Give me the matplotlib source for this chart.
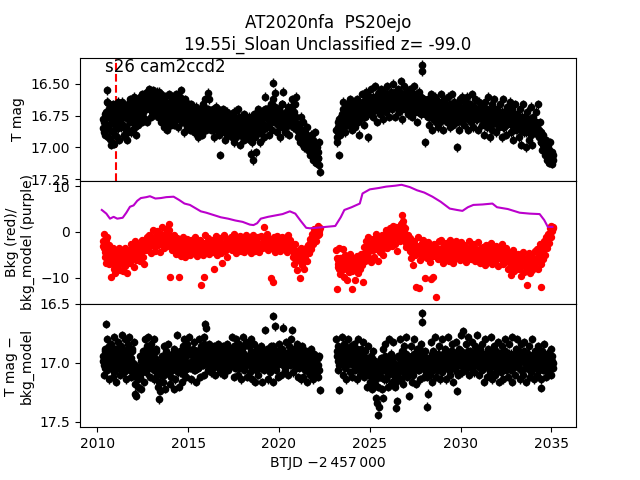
import numpy as np
import matplotlib
matplotlib.use("Agg")
import matplotlib.pyplot as plt

# ---------------- data ----------------
# two interleaved readings per segment (cadence grids offset by half a step)
seg1_range_a = (2010.30, 2022.25)
seg1_range_b = (2010.325, 2022.225)
seg2_range_a = (2023.15, 2035.10)
seg2_range_b = (2023.175, 2035.075)

tmag_seg1_a = [
16.85,16.80,16.90,16.78,16.72,16.55,16.65,16.82,16.93,16.75,16.70,16.88,16.97,16.80,16.68,16.74,16.92,16.85,16.66,16.78,
16.70,16.64,16.82,16.90,16.76,16.68,16.86,16.94,16.72,16.65,16.80,16.88,16.74,16.62,16.60,16.78,16.84,16.70,16.66,16.82,
16.76,16.60,16.68,16.80,16.72,16.58,16.64,16.78,16.70,16.56,16.62,16.54,16.70,16.76,16.60,16.55,16.66,16.74,16.58,16.64,
16.72,16.62,16.56,16.68,16.80,16.74,16.60,16.84,16.70,16.64,16.78,16.86,16.66,16.58,16.72,16.82,16.76,16.62,16.70,16.80,
16.66,16.58,16.74,16.84,16.70,16.60,16.55,16.72,16.80,16.88,16.68,16.62,16.76,16.84,16.72,16.66,16.86,16.78,16.70,16.82,
16.74,16.88,16.80,16.68,16.76,16.92,16.84,16.70,16.78,16.90,16.66,16.82,16.74,16.62,16.86,16.78,16.57,16.62,16.80,16.72,
16.84,16.70,16.78,16.92,16.80,16.68,16.86,16.76,16.90,17.06,16.74,16.82,16.70,16.88,16.78,16.94,16.72,16.84,16.76,16.90,
16.80,16.74,16.92,16.84,16.72,16.96,16.86,16.78,16.90,16.70,16.82,16.98,16.76,16.88,16.80,16.74,16.94,16.84,16.78,16.92,
16.86,16.76,16.94,17.05,16.82,17.10,16.90,16.74,16.84,17.04,16.78,16.70,16.88,16.96,16.80,16.72,16.86,16.92,16.76,16.60,
16.70,16.84,16.78,16.90,16.68,16.76,16.86,16.72,16.49,16.80,16.57,16.74,16.88,16.82,16.70,16.92,16.78,16.66,16.56,16.84,
16.76,16.88,16.72,16.82,16.68,16.90,16.78,16.70,16.62,16.84,16.74,16.66,16.80,16.60,16.86,16.92,16.82,16.96,16.76,16.88,
16.94,16.80,17.00,16.88,16.96,16.84,17.02,16.92,17.06,16.90,16.98,17.10,16.94,17.04,16.88,17.12,17.00,17.08,16.96,17.19,
]
tmag_seg1_b = [
16.78,16.88,16.74,16.84,16.64,16.92,16.76,16.70,16.86,16.98,16.80,16.66,16.76,16.90,16.84,16.72,16.64,16.80,16.94,16.70,
16.84,16.74,16.66,16.76,16.92,16.84,16.72,16.78,16.88,16.70,16.62,16.76,16.86,16.80,16.68,16.72,16.90,16.78,16.62,16.74,
16.68,16.74,16.62,16.58,16.76,16.66,16.70,16.60,16.80,16.66,16.58,16.68,16.62,16.56,16.72,16.64,16.60,16.68,16.72,16.56,
16.66,16.76,16.70,16.62,16.58,16.66,16.76,16.70,16.60,16.74,16.68,16.72,16.80,16.74,16.64,16.68,16.60,16.74,16.82,16.66,
16.76,16.70,16.62,16.66,16.78,16.74,16.66,16.80,16.64,16.74,16.78,16.70,16.66,16.72,16.80,16.76,16.70,16.66,16.76,16.74,
16.80,16.72,16.76,16.84,16.70,16.80,16.74,16.88,16.72,16.78,16.84,16.74,16.68,16.76,16.72,16.84,16.70,16.76,16.72,16.86,
16.76,16.86,16.72,16.80,16.74,16.84,16.78,16.70,16.82,16.76,16.88,16.74,16.80,16.76,16.86,16.80,16.78,16.72,16.84,16.78,
16.86,16.80,16.78,16.88,16.82,16.76,16.84,16.92,16.80,16.86,16.76,16.84,16.90,16.82,16.86,16.92,16.78,16.80,16.86,16.84,
16.80,16.90,16.86,16.92,16.78,16.96,16.82,16.88,16.92,16.80,16.86,16.76,16.82,16.88,16.74,16.84,16.78,16.72,16.82,16.70,
16.76,16.72,16.82,16.70,16.80,16.74,16.66,16.78,16.62,16.72,16.68,16.80,16.76,16.70,16.78,16.84,16.72,16.74,16.66,16.76,
16.80,16.74,16.84,16.76,16.72,16.80,16.70,16.76,16.68,16.74,16.80,16.72,16.66,16.76,16.82,16.86,16.90,16.84,16.92,16.86,
16.88,16.92,16.86,16.98,16.90,16.94,16.92,17.00,16.96,17.02,16.94,17.04,17.00,16.96,17.06,17.02,17.10,17.04,17.08,17.14,
]
tmag_seg2_a = [
16.86,16.96,16.80,17.06,16.90,16.76,16.84,16.70,16.64,16.80,16.88,16.72,16.66,16.82,16.74,16.62,16.78,16.86,16.70,16.76,
16.68,16.84,16.74,16.62,16.80,16.90,16.66,16.72,16.58,16.76,16.64,16.82,16.70,16.56,16.74,16.92,16.62,16.68,16.54,16.72,
16.60,16.76,16.66,16.52,16.70,16.80,16.58,16.64,16.74,16.54,16.68,16.62,16.78,16.56,16.66,16.72,16.52,16.60,16.76,16.64,
16.56,16.70,16.62,16.50,16.66,16.76,16.58,16.68,16.54,16.72,16.60,16.48,16.64,16.78,16.58,16.52,16.70,16.62,16.56,16.74,
16.62,16.54,16.70,16.60,16.76,16.66,16.52,16.72,16.58,16.80,16.64,16.56,16.68,16.74,16.35,16.40,16.62,16.70,16.96,16.66,
16.74,16.62,16.82,16.70,16.58,16.76,16.86,16.66,16.72,16.60,16.80,16.68,16.84,16.64,16.74,16.58,16.78,16.70,16.86,16.62,
16.72,16.66,16.80,16.60,16.76,16.84,16.68,16.58,16.74,16.82,16.64,16.70,16.78,17.00,16.66,16.86,16.62,16.74,16.60,16.80,
16.70,16.82,16.64,16.76,16.60,16.86,16.72,16.66,16.80,16.58,16.74,16.84,16.68,16.62,16.78,16.72,16.86,16.64,16.76,16.70,
16.82,16.68,16.76,16.90,16.64,16.72,16.84,16.60,16.78,16.92,16.70,16.66,16.86,16.74,16.62,16.80,16.88,16.70,16.76,16.84,
16.66,16.78,16.92,16.72,16.62,16.84,16.76,16.90,16.68,16.80,16.74,16.64,16.88,16.82,16.70,16.94,16.76,16.66,16.86,16.74,
16.80,16.92,16.70,16.86,16.98,16.76,16.66,16.88,16.82,17.00,16.72,16.84,16.94,16.78,16.68,16.90,16.98,16.76,16.86,16.80,
16.72,16.84,16.66,16.92,16.80,16.96,16.88,17.02,16.90,16.98,17.06,16.94,17.10,17.00,17.12,16.96,17.08,17.04,17.13,17.06,
]
tmag_seg2_b = [
16.92,16.84,16.88,16.78,16.82,16.86,16.74,16.80,16.76,16.70,16.78,16.82,16.72,16.76,16.68,16.74,16.70,16.80,16.74,16.66,
16.74,16.70,16.78,16.72,16.66,16.74,16.78,16.68,16.72,16.64,16.70,16.76,16.62,16.68,16.66,16.74,16.70,16.60,16.66,16.62,
16.66,16.62,16.70,16.60,16.64,16.68,16.62,16.56,16.66,16.60,16.72,16.64,16.58,16.62,16.70,16.60,16.66,16.58,16.62,16.68,
16.62,16.58,16.66,16.60,16.56,16.64,16.68,16.62,16.60,16.66,16.56,16.62,16.70,16.60,16.64,16.58,16.62,16.68,16.60,16.64,
16.66,16.60,16.64,16.70,16.62,16.58,16.66,16.62,16.70,16.64,16.72,16.62,16.68,16.60,16.66,16.72,16.68,16.62,16.74,16.70,
16.70,16.76,16.66,16.74,16.70,16.64,16.72,16.78,16.70,16.74,16.68,16.76,16.72,16.70,16.80,16.66,16.72,16.76,16.70,16.74,
16.70,16.76,16.68,16.74,16.72,16.66,16.78,16.72,16.68,16.74,16.76,16.70,16.72,16.80,16.70,16.74,16.68,16.78,16.72,16.70,
16.74,16.68,16.76,16.72,16.70,16.78,16.66,16.74,16.70,16.76,16.72,16.68,16.76,16.74,16.70,16.78,16.72,16.70,16.76,16.72,
16.74,16.78,16.72,16.80,16.76,16.82,16.70,16.76,16.80,16.74,16.78,16.82,16.72,16.78,16.76,16.70,16.80,16.76,16.82,16.74,
16.78,16.74,16.80,16.76,16.84,16.72,16.78,16.82,16.76,16.74,16.80,16.78,16.72,16.76,16.82,16.78,16.84,16.74,16.78,16.80,
16.78,16.84,16.80,16.76,16.86,16.82,16.78,16.84,16.76,16.88,16.82,16.78,16.84,16.80,16.86,16.78,16.82,16.88,16.80,16.84,
16.80,16.86,16.82,16.90,16.86,16.92,16.96,16.90,16.98,17.00,16.96,17.02,17.04,16.98,17.06,17.02,17.08,17.10,17.04,17.10,
]

bkg_seg1_a = [
-3.0,-0.4,-5.5,-2.2,-6.8,-1.0,-4.0,-7.0,-4.8,-9.8,-6.2,-3.5,-8.0,-5.4,-9.0,-4.2,-7.2,-5.8,-3.4,-8.4,
-6.0,-4.4,-8.6,-5.2,-7.4,-3.6,-6.6,-9.0,-5.0,-4.0,-6.8,-2.6,-5.6,-3.2,-7.6,-4.6,-2.0,-6.2,-3.8,-5.0,
-2.8,-6.4,-4.2,-1.8,-5.4,-3.4,-7.0,-2.4,-4.0,-1.2,-3.6,-0.6,-2.6,-4.6,-1.6,0.4,-3.0,-1.0,-4.2,-2.0,
0.2,-2.8,-1.4,-4.4,-0.4,1.0,-2.2,-3.6,-0.8,-1.8,0.6,-3.0,-1.2,1.8,-9.8,-2.4,-4.0,-1.6,-3.2,-0.6,
-2.6,-4.8,-1.4,-3.6,-9.8,-2.0,-5.2,-3.0,-1.2,-4.4,-2.6,-5.4,-3.8,-1.6,-4.0,-2.8,-5.0,-1.8,-3.4,-4.6,
-2.2,-4.2,-1.0,-3.6,-5.2,-2.8,-4.6,-1.8,-11.6,-3.2,-5.0,-9.8,-2.4,-0.6,-4.0,-3.0,-1.4,-4.8,-2.6,-3.8,
-1.8,-4.4,-2.8,-8.2,-3.4,-0.8,-5.0,-2.2,-3.8,-1.4,-4.6,-6.8,-2.6,-3.2,-0.6,-4.2,-2.0,-5.4,-3.0,-1.6,
-3.4,-1.2,-4.0,-2.4,-0.4,-3.6,-2.0,-4.6,-1.6,-3.0,-2.6,-0.8,-4.2,-2.2,-3.2,-1.4,-4.4,-2.8,-0.6,-3.8,
-2.0,-3.8,-1.0,-4.6,-2.6,-0.6,-3.4,-1.8,-4.2,-2.4,-3.0,-1.2,-4.4,-2.8,-0.8,-3.6,-2.2,-1.4,1.0,-3.2,
-2.6,-0.4,-4.0,-1.6,-3.0,-10.0,-2.2,-11.0,-3.6,-1.2,-4.4,-2.4,-0.8,-3.4,-1.8,-4.2,-2.8,-1.0,-3.8,-2.2,
-1.4,-3.6,-2.0,-4.4,-0.6,-3.0,-1.8,-4.0,-2.6,-5.4,-3.2,-7.0,-2.6,-6.0,-8.4,-4.2,-5.6,-10.0,-3.6,-7.2,
-6.0,-4.4,-8.0,-5.2,-3.4,-6.4,-2.8,-4.6,-1.6,-3.8,-0.4,-2.6,-1.4,0.6,-0.8,-2.0,0.2,1.2,-0.4,0.8,
]
bkg_seg1_b = [
-2.0,-3.6,-4.4,-1.8,-3.2,-5.0,-2.8,-5.6,-6.4,-4.6,-5.4,-7.0,-4.8,-6.0,-5.2,-6.6,-4.4,-6.2,-5.0,-6.8,
-5.4,-6.2,-4.8,-7.0,-5.8,-6.4,-4.6,-5.6,-6.8,-5.2,-4.4,-5.8,-4.2,-5.0,-3.8,-5.4,-4.0,-3.4,-4.8,-3.6,
-4.2,-3.6,-5.0,-3.2,-4.0,-2.6,-3.8,-3.0,-2.4,-3.4,-2.0,-2.8,-1.8,-2.4,-1.4,-2.2,-1.6,-2.6,-1.2,-1.8,
-1.6,-0.8,-2.0,-1.2,-2.4,-0.6,-1.4,-1.0,-2.2,-0.4,-1.6,-1.0,-0.2,0.4,-1.8,-2.6,-1.4,-2.8,-2.0,-3.0,
-3.2,-2.4,-3.6,-2.8,-4.0,-3.4,-2.2,-3.8,-3.0,-2.6,-3.6,-3.0,-4.2,-2.8,-3.4,-2.4,-3.6,-3.2,-2.6,-3.0,
-3.4,-2.6,-3.0,-4.0,-2.8,-3.6,-3.2,-2.4,-3.8,-2.8,-3.4,-4.2,-3.0,-2.6,-3.4,-3.8,-2.8,-3.2,-3.6,-2.6,
-3.0,-3.6,-2.4,-3.2,-4.0,-2.8,-3.4,-3.0,-2.6,-3.8,-3.2,-2.8,-3.6,-4.2,-3.0,-2.6,-3.4,-3.8,-2.8,-3.2,
-2.8,-3.4,-2.6,-3.0,-3.8,-2.4,-3.2,-3.0,-3.6,-2.6,-3.4,-2.8,-3.0,-3.6,-2.4,-3.2,-2.8,-3.4,-3.0,-2.6,
-3.2,-2.6,-3.0,-3.6,-2.8,-3.4,-2.2,-3.0,-3.6,-2.8,-3.2,-2.4,-3.0,-3.4,-2.6,-3.0,-3.6,-2.8,-2.2,-3.0,
-2.8,-3.2,-2.6,-3.6,-2.4,-3.0,-3.4,-2.8,-2.4,-3.2,-2.6,-3.0,-3.4,-2.8,-2.2,-3.0,-3.6,-2.6,-3.0,-2.8,
-2.6,-3.0,-2.4,-3.4,-2.8,-3.2,-2.6,-3.0,-3.6,-3.0,-4.0,-4.6,-4.2,-5.0,-5.4,-4.8,-6.2,-5.6,-6.4,-5.8,
-5.6,-6.0,-5.2,-4.8,-4.2,-4.6,-3.6,-3.2,-2.8,-2.4,-2.0,-1.6,-1.8,-0.8,-1.2,-0.4,0.0,-0.6,0.4,0.2,
]
bkg_seg2_a = [
-4.0,-12.4,-7.6,-3.4,-9.2,-5.6,-8.4,-3.8,-6.8,-9.8,-5.0,-7.4,-10.6,-6.2,-8.8,-4.8,-7.0,-12.4,-5.8,-8.0,
-6.6,-10.4,-7.8,-5.2,-9.0,-6.0,-8.2,-4.8,-7.2,-11.0,-5.6,-3.2,-6.4,-2.0,-4.6,-1.2,-5.8,-3.0,-6.6,-2.4,
-4.0,-1.6,-5.4,-2.6,-0.4,-3.8,-6.4,-1.8,-4.4,-2.2,-0.6,-3.4,-5.0,-1.4,-2.8,0.4,-3.6,-1.0,-2.4,0.8,
-1.6,0.2,-3.0,1.4,-0.8,-2.6,1.0,-4.2,-1.2,0.6,-2.0,1.8,-0.4,3.6,2.4,-1.4,0.8,-3.2,-2.2,-0.6,
-3.6,-1.4,-5.8,-2.6,-4.4,-7.2,-2.0,-5.0,-12.0,-3.0,-1.2,-12.2,-6.2,-3.8,-2.4,-5.4,-1.8,-4.6,-10.0,-3.2,
-5.6,-2.2,-4.0,-6.6,-10.2,-3.0,-5.2,-9.8,-2.6,-4.8,-14.2,-3.6,-6.0,-2.0,-4.4,-1.8,-5.8,-3.4,-6.8,-2.8,
-4.6,-2.4,-5.6,-3.2,-6.4,-1.8,-4.0,-5.2,-2.6,-6.8,-3.6,-4.8,-2.0,-5.8,-3.0,-4.4,-6.2,-2.2,-5.0,-3.8,
-5.4,-2.8,-4.2,-6.6,-3.4,-5.0,-2.0,-4.8,-6.0,-3.0,-5.6,-2.6,-4.4,-6.4,-3.8,-5.2,-2.2,-4.6,-6.8,-3.6,
-4.0,-6.2,-3.2,-5.4,-7.2,-2.8,-4.8,-6.6,-3.6,-5.8,-2.4,-4.4,-7.0,-3.4,-5.2,-6.4,-3.0,-4.6,-7.4,-5.0,
-3.8,-6.0,-2.6,-5.2,-7.0,-4.2,-6.6,-3.4,-5.6,-8.0,-4.6,-6.8,-9.4,-5.0,-7.4,-4.0,-8.6,-6.2,-5.4,-7.8,
-4.8,-8.2,-6.0,-9.6,-5.2,-7.0,-4.4,-8.8,-6.4,-5.6,-11.6,-7.6,-4.6,-9.0,-6.8,-5.0,-8.4,-6.2,-7.2,-4.2,
-6.6,-3.8,-8.0,-5.2,-2.6,-7.0,-12.0,-4.4,-6.0,-2.0,-5.0,-1.2,-3.6,-0.4,-2.4,0.8,-1.0,1.2,0.2,1.0,
]
bkg_seg2_b = [
-5.6,-7.0,-6.2,-8.2,-5.8,-7.4,-6.6,-8.0,-7.2,-6.4,-7.8,-6.8,-7.6,-8.4,-7.0,-6.2,-7.4,-8.6,-6.8,-7.2,
-7.4,-6.6,-8.0,-7.0,-6.2,-6.8,-5.6,-6.4,-5.2,-5.8,-4.8,-5.4,-4.4,-4.0,-4.6,-3.6,-4.2,-3.2,-3.8,-3.0,
-3.4,-2.8,-3.2,-2.4,-3.0,-2.0,-2.6,-1.8,-2.4,-1.4,-2.0,-1.6,-1.0,-1.8,-0.8,-1.4,-0.6,-1.2,-0.4,-1.0,
-0.6,-1.0,0.0,-0.4,-1.2,0.4,-0.2,-0.8,0.6,-0.4,0.8,1.2,2.0,1.4,0.2,-0.8,-1.6,-2.4,-2.0,-3.0,
-3.6,-4.2,-3.0,-4.6,-3.8,-4.4,-3.2,-4.0,-4.8,-3.4,-4.2,-3.6,-4.6,-4.0,-3.2,-4.4,-3.8,-4.8,-4.2,-3.6,
-4.4,-4.8,-3.8,-5.0,-4.2,-4.6,-5.2,-3.8,-4.4,-5.0,-4.0,-4.6,-5.4,-4.2,-3.8,-4.8,-4.4,-5.0,-4.2,-4.6,
-4.8,-4.2,-5.0,-4.4,-3.8,-4.6,-5.2,-4.0,-4.8,-4.4,-5.0,-4.2,-4.6,-3.8,-4.8,-5.2,-4.4,-4.0,-4.6,-5.0,
-4.4,-4.8,-4.0,-5.2,-4.6,-4.2,-5.0,-4.4,-3.8,-4.8,-4.2,-5.0,-4.6,-4.0,-4.8,-4.4,-5.2,-4.6,-4.2,-4.8,
-4.6,-5.0,-4.2,-5.4,-4.8,-4.4,-5.2,-4.6,-5.0,-4.2,-5.6,-4.8,-4.4,-5.2,-5.0,-4.6,-5.4,-4.8,-5.2,-5.0,
-5.2,-5.6,-4.8,-6.0,-5.4,-5.0,-5.8,-6.2,-5.4,-5.8,-6.4,-5.6,-6.0,-6.6,-5.8,-6.2,-5.4,-6.4,-6.0,-6.6,
-6.2,-6.8,-6.0,-7.0,-6.4,-6.8,-7.2,-6.2,-6.6,-7.4,-6.8,-6.4,-7.0,-6.6,-7.2,-6.0,-6.8,-7.4,-6.4,-6.0,
-6.4,-5.8,-6.2,-5.4,-5.0,-5.6,-4.6,-4.2,-4.8,-3.6,-3.2,-2.8,-2.2,-1.8,-1.2,-0.8,-0.2,0.4,0.6,0.8,
]

model_t = [2010.25,2010.5,2010.7,2010.9,2011.1,2011.4,2011.6,2011.8,2012.0,2012.2,2012.4,2012.7,2012.9,
           2013.2,2013.5,2013.8,2014.2,2014.5,2014.8,2015.1,2015.4,2015.7,2016.0,2016.4,2016.8,2017.2,
           2017.6,2018.0,2018.4,2018.6,2018.8,2019.0,2019.4,2019.8,2020.2,2020.6,2020.9,2021.2,2021.5,
           2021.7,2022.0,2022.3,2023.1,2023.4,2023.6,2024.0,2024.45,2024.6,2025.0,2025.5,2025.9,2026.4,
           2026.75,2027.2,2027.6,2028.0,2028.45,2028.9,2029.4,2029.8,2030.1,2030.4,2030.7,2031.2,2031.75,
           2032.0,2032.6,2033.25,2033.8,2034.35,2034.6,2034.8,2035.05]
model_v = [4.8,4.0,2.9,3.3,2.9,3.1,4.2,5.5,5.8,6.8,7.4,7.6,7.8,
           7.3,7.4,7.6,7.7,7.0,6.2,5.9,5.2,4.5,4.2,3.7,3.2,2.9,
           2.5,2.2,1.6,1.5,1.9,2.9,3.3,3.6,3.9,4.5,4.0,2.4,0.9,
           0.8,0.9,1.0,1.3,3.2,4.8,5.4,6.2,8.4,9.3,9.6,9.9,10.1,
           10.3,9.8,9.1,8.6,7.7,6.6,5.1,4.8,4.6,5.4,5.9,6.0,6.2,
           5.4,5.0,4.2,4.0,3.9,2.6,1.1,1.1]

diff_seg1_a = [
16.98,17.10,16.90,17.04,16.67,16.80,16.92,17.14,17.02,16.84,16.96,17.12,16.78,16.88,17.06,17.16,16.94,16.82,17.00,17.10,
16.86,16.76,16.98,17.08,16.80,16.92,17.14,17.02,16.84,16.78,16.96,17.12,16.90,17.04,16.82,17.26,17.18,17.28,17.06,17.20,
17.10,16.94,17.22,17.02,16.90,17.16,16.98,16.80,17.08,16.86,16.78,16.96,17.12,16.84,17.04,16.92,16.80,17.14,17.00,16.88,
17.06,17.20,17.31,17.24,17.10,16.94,17.16,16.86,17.02,17.22,16.90,17.08,16.84,16.98,17.18,17.12,16.92,17.04,17.22,16.88,
17.14,16.96,16.76,17.08,17.20,16.90,17.02,17.16,16.86,17.10,16.80,16.94,17.12,16.84,17.04,16.78,16.92,17.14,17.00,16.88,
17.06,16.82,16.96,17.16,16.90,17.04,16.80,17.12,16.94,17.02,16.86,16.78,17.10,16.67,16.70,16.92,17.06,16.84,16.98,17.08,
16.90,17.04,16.86,16.98,17.10,16.92,17.02,16.84,16.96,17.08,16.88,17.00,16.86,17.10,16.94,17.04,16.90,16.84,17.06,16.96,
16.88,17.02,16.78,16.96,17.12,16.86,17.04,16.80,16.94,17.10,16.84,16.98,17.14,16.90,16.78,17.06,16.92,17.00,16.82,17.12,
16.96,16.86,17.08,16.80,17.14,16.92,17.04,16.84,17.16,16.98,16.88,17.10,16.94,17.02,16.86,17.16,16.90,17.06,16.96,16.72,
17.04,16.88,17.14,16.94,17.08,16.86,17.00,17.16,16.60,16.92,16.69,17.06,16.90,17.12,16.84,16.98,17.10,16.88,16.70,17.02,
16.92,17.06,16.82,16.98,17.10,16.86,17.02,16.80,16.72,16.94,17.08,16.88,16.96,17.04,16.84,17.12,16.90,17.00,17.14,16.86,
16.98,17.12,16.92,17.06,16.90,17.16,17.00,16.94,17.10,16.88,17.04,17.14,16.96,16.92,17.08,16.94,17.02,17.12,16.94,17.23,
]
diff_seg1_b = [
16.94,17.02,16.88,16.98,17.06,16.92,17.00,16.86,16.96,17.04,16.90,16.98,17.08,16.94,17.02,16.88,16.96,17.04,16.92,17.00,
16.96,17.04,16.90,17.00,16.94,17.06,16.88,16.98,17.02,16.92,17.06,16.96,16.88,17.00,17.08,17.02,17.12,17.06,17.14,17.08,
17.04,17.12,16.98,17.08,17.02,16.94,17.06,16.98,16.90,17.00,16.94,17.04,16.88,16.98,17.02,16.92,17.06,16.96,16.90,17.02,
17.10,17.02,17.16,17.08,16.98,17.04,16.96,17.10,17.00,16.94,17.06,16.98,17.02,17.08,16.94,17.00,17.06,16.96,17.04,16.98,
17.00,17.06,16.92,17.02,16.96,17.08,16.94,17.00,17.04,16.90,16.98,17.06,16.94,17.02,16.88,17.00,17.04,16.92,16.98,17.02,
16.94,17.00,17.06,16.90,16.98,17.04,16.92,17.00,16.86,16.96,17.02,16.90,16.84,16.94,17.00,16.88,16.96,17.02,16.92,16.98,
16.96,16.92,17.02,16.94,17.00,16.88,16.98,16.94,17.04,16.92,16.98,16.94,17.02,16.90,16.96,17.00,16.92,16.98,16.94,17.02,
16.94,16.98,16.90,17.02,16.96,16.92,17.00,16.88,16.98,16.94,17.04,16.90,16.96,17.00,16.92,16.98,16.86,16.94,17.02,16.96,
16.98,16.94,17.02,16.90,16.98,17.04,16.92,17.00,16.96,17.06,16.94,16.98,17.02,16.90,16.96,17.04,16.98,16.94,17.00,16.92,
16.96,17.02,16.94,16.98,16.90,17.04,16.96,16.92,16.86,16.94,16.90,16.98,17.02,16.94,16.98,16.92,17.00,16.96,16.90,16.98,
16.94,16.98,16.92,17.02,16.96,16.94,17.00,16.90,16.96,16.88,16.98,17.02,16.92,16.96,17.00,16.94,17.04,16.96,17.00,16.98,
17.02,16.96,17.04,16.98,17.06,16.94,17.02,17.08,16.98,17.04,16.96,17.00,17.06,17.02,16.98,17.04,17.08,16.96,17.02,17.06,
]
diff_seg2_a = [
16.80,16.94,17.06,17.23,16.88,17.00,16.78,17.10,16.92,16.84,17.04,17.14,16.90,16.80,16.98,17.08,16.86,17.12,16.94,17.02,
16.84,17.06,16.92,17.14,16.80,16.98,17.10,16.88,17.02,16.82,16.96,17.12,16.90,17.04,17.20,16.86,17.00,17.16,16.94,17.22,
17.08,16.90,17.18,17.02,17.30,17.34,17.44,17.37,17.12,16.96,17.22,16.88,17.30,17.06,16.84,17.14,16.98,17.20,16.80,17.04,
16.92,17.16,17.00,16.82,17.10,17.20,17.38,17.32,16.94,17.06,16.80,17.14,16.90,17.02,17.18,16.86,17.08,16.78,17.12,16.96,
17.28,17.04,16.86,17.16,16.94,17.10,16.80,17.00,17.18,16.88,17.06,16.92,17.14,16.84,16.65,16.58,16.98,17.12,16.90,17.04,
17.37,17.26,16.96,17.10,16.82,17.04,17.16,16.90,17.00,16.78,17.12,16.94,17.06,16.86,17.14,16.98,16.80,17.08,16.92,17.02,
16.88,17.14,16.96,16.78,17.06,17.10,16.90,17.00,16.84,17.16,16.94,17.04,16.82,17.24,17.10,16.88,17.02,16.76,16.96,17.08,
16.73,16.92,17.06,16.84,17.00,16.78,17.10,16.90,16.98,17.04,16.82,16.94,17.08,16.86,17.02,16.76,16.96,17.10,16.88,17.00,
16.84,17.06,16.92,17.16,16.80,17.00,17.12,16.88,16.96,17.08,16.78,17.14,16.94,17.02,16.86,17.10,16.90,17.04,16.82,17.16,
16.94,17.08,16.86,17.02,17.14,16.90,16.80,17.06,16.96,17.12,16.84,17.00,16.92,17.16,16.78,17.04,16.98,17.10,16.88,16.80,
17.02,16.90,17.14,16.84,17.06,16.96,17.10,16.82,17.00,17.16,16.92,17.04,16.86,17.12,16.94,17.08,16.80,17.02,17.14,16.90,
16.98,17.10,16.86,17.04,16.94,17.14,17.21,16.90,17.06,16.84,17.00,17.12,16.92,17.08,16.96,17.02,16.88,17.10,16.94,17.04,
]
diff_seg2_b = [
16.90,16.98,16.86,17.02,16.94,16.88,17.00,16.92,16.98,16.86,16.96,17.02,16.92,16.98,16.88,16.94,17.00,16.96,16.90,16.98,
16.94,17.00,16.88,16.96,17.04,16.92,16.98,17.06,16.94,17.00,16.90,17.04,16.96,17.08,16.98,17.02,17.10,16.96,17.06,17.00,
17.04,17.12,16.98,17.08,17.14,17.06,17.20,17.10,17.02,17.12,16.98,17.06,17.14,17.00,16.94,17.06,17.02,17.10,16.96,17.00,
17.04,16.96,17.08,17.00,17.12,17.06,17.16,17.10,17.02,16.96,17.06,17.00,16.94,17.08,17.02,16.98,17.04,16.92,17.00,17.06,
17.10,16.98,17.04,16.94,17.06,17.00,16.92,17.04,16.98,17.02,16.94,17.06,16.98,16.90,16.96,17.00,17.04,16.94,17.00,17.08,
17.12,17.02,17.06,16.96,17.04,16.92,17.00,17.06,16.94,17.02,16.98,17.06,16.92,17.00,17.04,16.96,17.02,16.94,16.98,17.04,
16.96,17.02,16.92,17.00,16.94,17.06,16.98,16.90,17.02,16.96,17.04,16.92,17.00,17.08,16.94,17.00,16.96,16.90,17.02,16.98,
16.94,16.98,17.02,16.92,16.98,16.90,17.00,16.96,17.04,16.92,16.98,16.94,17.02,16.96,16.90,16.98,17.02,16.94,16.98,17.04,
16.96,17.00,16.92,17.04,16.94,16.98,17.02,16.90,16.98,17.04,16.92,17.00,16.96,16.90,17.02,16.98,16.94,17.06,16.96,17.00,
16.98,16.92,17.02,16.96,17.00,16.94,16.90,16.98,17.04,16.96,16.92,17.02,16.98,17.06,16.94,16.98,17.02,16.92,16.96,17.00,
16.94,17.00,17.04,16.92,16.98,17.06,16.96,16.90,17.00,17.04,16.96,16.92,17.02,16.98,17.06,16.94,17.00,16.96,17.04,16.98,
16.96,17.02,16.92,17.00,17.06,16.96,17.02,16.94,17.00,16.92,17.06,16.98,17.02,16.94,16.98,17.04,16.96,17.02,16.98,17.00,
]

mag_err = 0.035
sector_start = 2011.03
title = "AT2020nfa  PS20ejo\n19.55i_Sloan Unclassified z= -99.0"
sector_label = "s26 cam2ccd2"

# ---------------- plotting ----------------
def times(rng, vals):
    return np.linspace(rng[0], rng[1], len(vals))

fig, axes = plt.subplots(3, 1, sharex=True, figsize=(6.4, 4.8), dpi=100)
fig.subplots_adjust(hspace=0)
ax1, ax2, ax3 = axes

top_sets = ((seg1_range_a, tmag_seg1_a), (seg1_range_b, tmag_seg1_b),
            (seg2_range_a, tmag_seg2_a), (seg2_range_b, tmag_seg2_b))
for rng, vals in top_sets:
    ax1.errorbar(times(rng, vals), vals, yerr=mag_err, fmt='o', color='k', ms=4.5, elinewidth=1)
ax1.axvline(sector_start, color='r', ls='--', lw=1.5)
ax1.text(0.05, 0.995, sector_label, transform=ax1.transAxes, va='top', ha='left', fontsize=12)
ax1.set_ylim(17.263, 16.293)
ax1.set_yticks([16.50, 16.75, 17.00, 17.25])
ax1.set_ylabel("T mag")
ax1.set_title(title, fontsize=12)

bkg_sets = ((seg1_range_a, bkg_seg1_a), (seg1_range_b, bkg_seg1_b),
            (seg2_range_a, bkg_seg2_a), (seg2_range_b, bkg_seg2_b))
for rng, vals in bkg_sets:
    ax2.plot(times(rng, vals), vals, 'o', color='r', ms=4.3)
ax2.plot(model_t, model_v, '-', color='#bb00cc', lw=1.5)
ax2.set_ylim(-15.74, 11.17)
ax2.set_yticks([-10, 0, 10])
ax2.set_ylabel("Bkg (red)/\nbkg_model (purple)")

diff_sets = ((seg1_range_a, diff_seg1_a), (seg1_range_b, diff_seg1_b),
             (seg2_range_a, diff_seg2_a), (seg2_range_b, diff_seg2_b))
for rng, vals in diff_sets:
    ax3.errorbar(times(rng, vals), vals, yerr=mag_err, fmt='o', color='k', ms=4.5, elinewidth=1)
ax3.set_ylim(17.545, 16.5)
ax3.set_yticks([16.5, 17.0, 17.5])
ax3.set_ylabel("T mag \u2212\nbkg_model")
ax3.set_xlim(2009.05, 2036.35)
ax3.set_xlabel("BTJD \u22122\u2009457\u2009000")

fig.savefig("out.png", dpi=100)
